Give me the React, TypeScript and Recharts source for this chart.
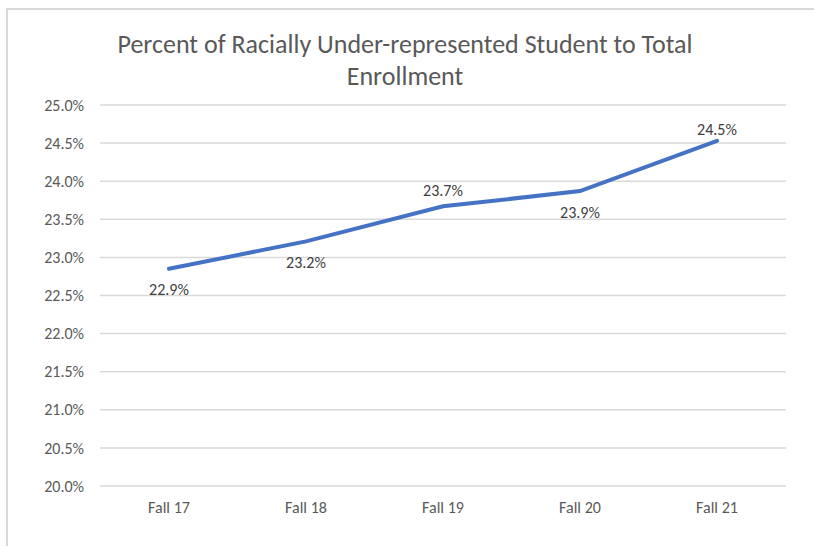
import React from 'react';
import { LineChart, Line, XAxis, YAxis, CartesianGrid, LabelList } from 'recharts';

const categories = ['Fall 17', 'Fall 18', 'Fall 19', 'Fall 20', 'Fall 21'];
const percentValues = [22.85, 23.21, 23.67, 23.87, 24.53];
const valueLabels = ['22.9%', '23.2%', '23.7%', '23.9%', '24.5%'];
const yTicks = [20, 20.5, 21, 21.5, 22, 22.5, 23, 23.5, 24, 24.5, 25];

const chartData = categories.map((name, i) => ({
  name,
  value: percentValues[i],
  label: valueLabels[i],
}));

// Excel put some labels above the line and some below
const labelAbove = [false, false, true, false, true];

const FONT = "Carlito, Lato, 'Open Sans', sans-serif";
const TEXT = '#595959';

const PointLabel = (props: any) => {
  const { x, y, value, index } = props;
  const above = labelAbove[index];
  const last = index === categories.length - 1;
  return (
    <text
      x={x}
      y={above ? y - (last ? 11 : 16) : y + 21}
      textAnchor="middle"
      dominantBaseline="central"
      fontSize={16}
      fill="#404040"
      fontFamily={FONT}
    >
      {value}
    </text>
  );
};

export default function App() {
  return (
    <div
      style={{
        position: 'fixed',
        left: 0,
        top: 0,
        width: 814,
        height: 546,
        background: '#fff',
        overflow: 'hidden',
      }}
    >
      <div
        style={{
          position: 'absolute',
          left: 6,
          top: 8,
          width: 820,
          height: 560,
          borderTop: '2px solid #d9d9d9',
          borderLeft: '2px solid #d9d9d9',
        }}
      />
      <div
        style={{
          position: 'absolute',
          left: 0,
          top: 28,
          width: 810,
          textAlign: 'center',
          fontFamily: FONT,
          fontSize: 26,
          lineHeight: '32px',
          color: TEXT,
        }}
      >
        Percent of Racially Under-represented Student to Total
        <br />
        Enrollment
      </div>
      <div style={{ position: 'absolute', left: 0, top: 0 }}>
        <LineChart
          width={814}
          height={546}
          data={chartData}
          margin={{ top: 105, right: 28, bottom: 30, left: 30 }}
        >
          <CartesianGrid vertical={false} stroke="#d9d9d9" strokeWidth={1.5} />
          <XAxis
            dataKey="name"
            height={30}
            axisLine={false}
            tickLine={false}
            padding={{ left: 69, right: 69 }}
            tick={{ fill: TEXT, fontSize: 16, fontFamily: FONT }}
            tickMargin={10}
          />
          <YAxis
            domain={[20, 25]}
            ticks={yTicks}
            width={70}
            axisLine={false}
            tickLine={false}
            tickMargin={10}
            tickFormatter={(v: number) => `${v.toFixed(1)}%`}
            tick={{ fill: TEXT, fontSize: 16, fontFamily: FONT }}
          />
          <Line
            type="linear"
            dataKey="value"
            stroke="#4472C4"
            strokeWidth={4}
            strokeLinecap="round"
            dot={false}
            isAnimationActive={false}
          >
            <LabelList dataKey="label" content={<PointLabel />} />
          </Line>
        </LineChart>
      </div>
    </div>
  );
}
